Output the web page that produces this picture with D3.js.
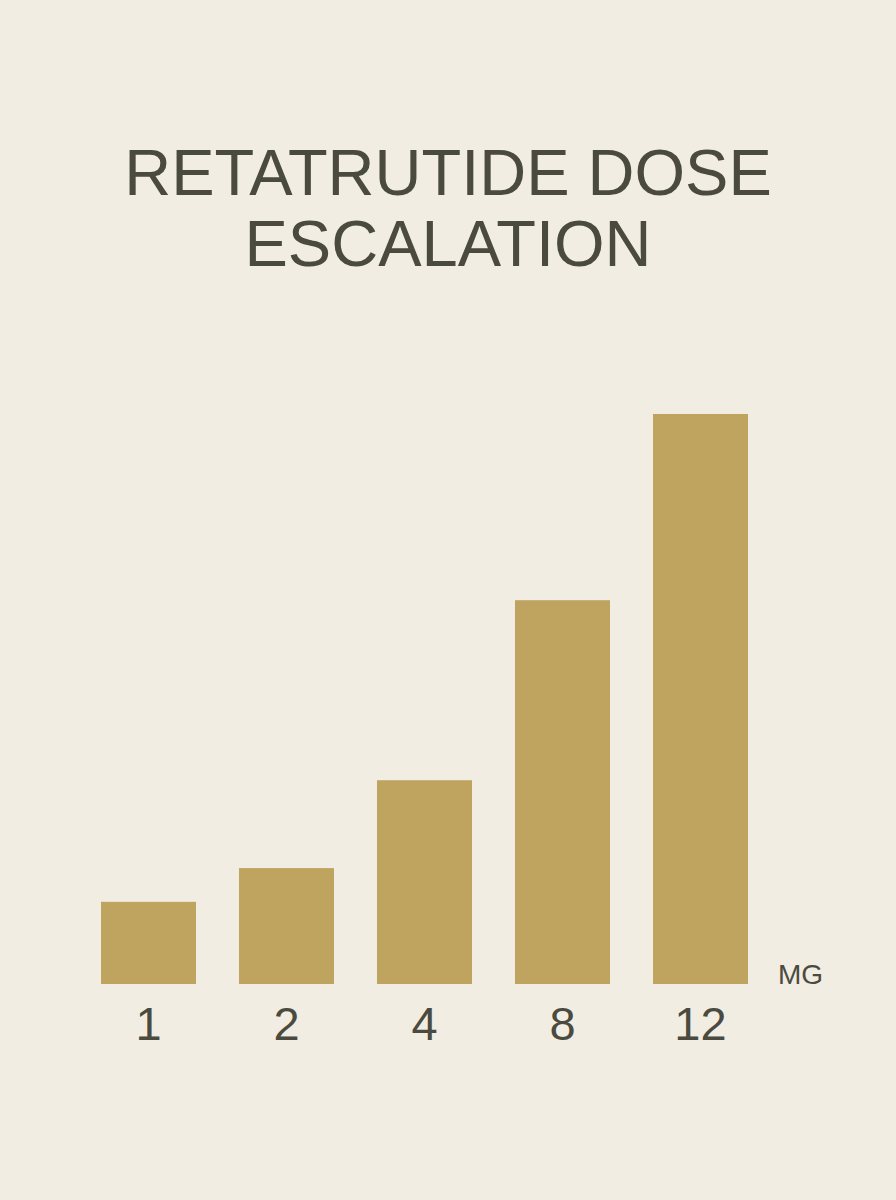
<!DOCTYPE html>
<html>
<head>
<meta charset="utf-8">
<script src="https://cdn.jsdelivr.net/npm/d3@7"></script>
<style>
	html, body { margin: 0; padding: 0; background: #f1ede3; }
	svg { display: block; }
</style>
</head>
<body>
<div class="visContainer"></div>
<script>
// doses (mg) shown under each bar
const doses = ['1', '2', '4', '8', '12'];
// bar heights, in mg-equivalent units
const heights = [1.73, 2.44, 4.29, 8.08, 12];
const titleLines = ['RETATRUTIDE DOSE', 'ESCALATION'];
const unitLabel = 'MG';

const w = 896;
const h = 1200;
const textColor = '#4b4a3e';
const barColor = '#bea45f';

const svg = d3
	.select('.visContainer')
	.append('svg')
	.attr('width', w)
	.attr('height', h);

svg.append('rect')
	.attr('width', w)
	.attr('height', h)
	.attr('fill', '#f1ede3');

svg.selectAll('text.title')
	.data(titleLines)
	.enter()
	.append('text')
	.attr('class', 'title')
	.attr('x', 448)
	.attr('y', (d, i) => 195 + i * 71)
	.attr('text-anchor', 'middle')
	.style('font-family', '"Liberation Sans", Arial, sans-serif')
	.style('font-size', '65px')
	.attr('fill', textColor)
	.text((d) => d);

const xScale = d3
	.scaleBand()
	.domain(doses)
	.range([101, 748])
	.paddingInner(0.3116)
	.paddingOuter(0);

const yScale = d3.scaleLinear().domain([0, 12]).range([984, 414]);

svg.selectAll('rect.bar')
	.data(heights)
	.enter()
	.append('rect')
	.attr('class', 'bar')
	.attr('x', (d, i) => xScale(doses[i]))
	.attr('y', (d) => yScale(d))
	.attr('width', xScale.bandwidth())
	.attr('height', (d) => yScale(0) - yScale(d))
	.attr('fill', barColor);

const xAxis = d3.axisBottom(xScale).tickSize(0).tickPadding(0);

const xAxisGroup = svg
	.append('g')
	.attr('id', 'x-axis')
	.attr('transform', 'translate(0, 1040)')
	.call(xAxis);

xAxisGroup.select('.domain').remove();
xAxisGroup.selectAll('text')
	.attr('dy', 0)
	.attr('y', 0)
	.style('font-family', '"Liberation Sans", Arial, sans-serif')
	.style('font-size', '47px')
	.attr('fill', textColor);

svg.append('text')
	.attr('x', 778)
	.attr('y', 984)
	.style('font-family', '"Liberation Sans", Arial, sans-serif')
	.style('font-size', '28px')
	.attr('fill', textColor)
	.text(unitLabel);
</script>
</body>
</html>
